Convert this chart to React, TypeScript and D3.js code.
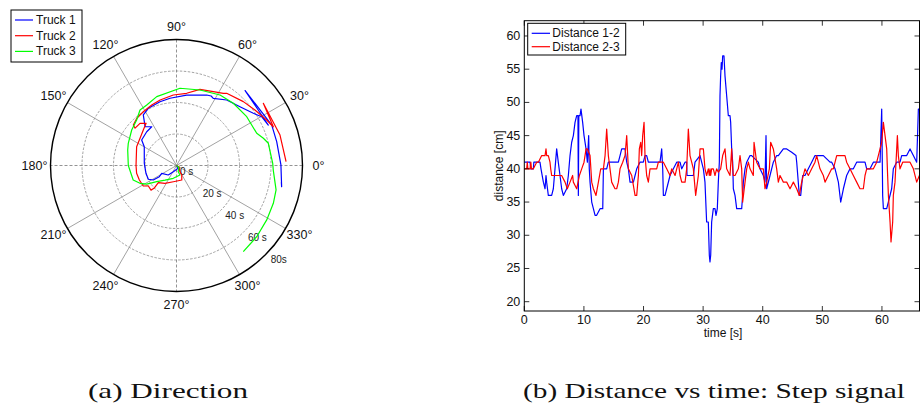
import React from 'react';
import * as d3 from 'd3';

// ---------- Polar chart data (time [s] as radius, heading [deg] as angle) ----------
const truckNames = ['Truck 1', 'Truck 2', 'Truck 3'];
const truckColors = ['#0000ff', '#ff0000', '#00ff00'];

const truck1Time = [0, 2, 4.4, 8, 10.6, 13, 17.4, 19.9, 20, 20.5, 23.7, 27.4, 28.6, 29.2, 31.7, 38.4, 40.5, 41.8, 42.9, 45.2, 48.7, 49.3, 48.6, 52.4, 54.9, 59, 62.3, 63.7, 64.5, 65.7, 65.4, 66.3, 68.1, 67.4];
const truck1Angle = [0, -60, -117, -131, -152, -147, -148, -154, -165.7, 176, 149.7, 143.8, 131.4, 122.6, 129, 123.3, 116.2, 104.5, 95.5, 81.8, 66.8, 63.5, 61.3, 52.5, 42.8, 34.2, 29.8, 23.8, 47.5, 23, 13.4, 0.3, -11.4, -9];

const truck2Time = [0, 2, 4.5, 6.9, 9.8, 10.5, 13.5, 15.9, 20.3, 22.5, 22.1, 24.8, 25.3, 25.8, 25.7, 28, 28.6, 30.9, 33, 35.4, 35.4, 37.6, 39.2, 40.1, 41.5, 42.9, 44.8, 46.3, 50.6, 52.4, 54.6, 55.8, 58.7, 61, 64.1, 66.2, 67.8, 68.5, 69.1, 69.6];
const truck2Angle = [0, -30, -60.5, -61, -70, -101, -123, -136.6, -134.6, -136, -144, -148.3, -158.7, -169, 180, 154.7, 145.6, 133, 125.8, 130.9, 138, 136.8, 130, 121.7, 112.3, 104, 92.6, 82, 72.9, 63.5, 57, 55.2, 43.7, 35.3, 26.8, 21.8, 35.6, 16.4, 4.6, 2];

const truck3Time = [0, 2, 4, 6.4, 8.4, 11.8, 16.2, 22.3, 25.8, 29, 30.6, 32.5, 33.7, 36.3, 38.4, 42.2, 42.8, 45.5, 49.1, 50.2, 52.6, 53.5, 54.3, 54.9, 57.8, 60, 61.1, 61.5, 65.1, 66, 66.9, 68.1, 69.2];
const truck3Angle = [0, -40, -75, -70, -104, -128, -141, -148, -154, -161.5, 180, 162.4, 155.3, 141.6, 131.2, 123.3, 116.2, 106, 87.4, 72.7, 58.3, 47.6, 34.8, 21.9, 17.4, 13.6, 1.3, -2.7, -13.8, -21.3, -31.1, -41.6, -52.2];

const polarAngleTicks = [0, 30, 60, 90, 120, 150, 180, 210, 240, 270, 300, 330];
const polarRingTicks = [20, 40, 60];
const polarRadiusLabels = [0, 20, 40, 60, 80];
const polarRadiusLabelText = ['0 s', '20 s', '40 s', '60 s', '80s'];

// ---------- Distance chart data ----------
const seriesNames = ['Distance 1-2', 'Distance 2-3'];
const seriesColors = ['#0000ff', '#ff0000'];

const dist12Time = [0, 0.96, 1.1, 1.52, 1.6, 2.63, 2.8, 3.2, 3.48, 3.64, 3.75, 4.03, 4.59, 4.87, 5.15, 5.43, 5.7, 5.99, 6.27, 6.55, 7.11, 7.39, 7.67, 7.95, 8.23, 8.51, 8.79, 9.0, 9.07, 9.15, 9.35, 9.51, 9.79, 10.02, 10.36, 10.58, 10.8, 10.9, 11.03, 11.31, 11.59, 11.87, 12.14, 12.71, 13.16, 13.27, 13.82, 14.1, 15.22, 15.78, 16.06, 16.34, 16.9, 17.18, 17.46, 17.74, 18.3, 18.58, 18.86, 19.41, 19.97, 20.25, 20.53, 20.81, 22.77, 23.05, 23.22, 23.33, 23.61, 23.89, 24.45, 25.01, 25.57, 26.13, 26.41, 26.97, 27.24, 27.3, 28.36, 28.64, 29.48, 30.04, 30.31, 30.59, 30.87, 31.04, 31.15, 31.27, 31.43, 31.71, 31.99, 32.16, 32.38, 32.55, 32.72, 32.83, 32.94, 33.05, 33.17, 33.28, 33.5, 33.67, 33.95, 34.23, 34.51, 34.62, 34.79, 34.96, 35.07, 35.35, 35.63, 36.47, 36.63, 36.75, 37.03, 37.31, 37.87, 38.14, 38.7, 39.26, 39.54, 40.1, 40.38, 40.55, 40.66, 41.22, 41.78, 42.34, 42.62, 43.46, 44.02, 44.86, 45.58, 45.7, 46.14, 46.37, 46.7, 47.09, 47.65, 48.21, 48.77, 49.61, 50.17, 50.73, 51.29, 51.57, 52.13, 52.69, 53.08, 53.53, 54.08, 54.64, 55.2, 55.76, 57.16, 57.44, 58.0, 58.56, 59.68, 59.96, 60.12, 60.24, 60.8, 61.63, 61.91, 62.47, 63.03, 63.31, 64.15, 64.71, 65.27, 65.83, 66.11, 66.28];
const dist12Value = [41, 41, 40, 40, 41, 41, 40, 38, 37, 39, 38, 36, 36, 37, 40, 43, 41, 39, 37, 36, 37, 39, 42, 44, 45, 47, 48, 48, 36, 48, 48, 49, 47, 45, 43, 41, 45, 40, 38, 35, 34, 33, 33, 34, 34, 40, 40, 41, 41, 41, 42, 43, 43, 41, 40, 38, 38, 39, 40, 41, 41, 42, 42, 41, 41, 43, 40, 36, 36, 37, 39, 40, 41, 41, 40, 41, 41, 39, 39, 41, 42, 40, 38, 32, 32, 27, 26, 27, 32, 34, 34, 33, 34, 38, 41, 51, 54, 56, 55, 57, 57, 54, 51, 48, 48, 47, 43, 41, 37, 36, 34, 34, 36, 38, 40, 41, 42, 42, 41.5, 41, 40, 39, 38, 45, 37, 39, 41, 42, 42, 43, 43, 42.5, 42, 41, 36, 36, 39, 39, 40, 41, 42, 42, 42, 41.5, 41, 41, 40, 38, 35, 37, 39, 40, 40, 41, 41, 40, 40, 41, 41, 49, 36, 34, 34, 37, 40, 41, 41, 42, 42, 43, 42, 41, 49, 49];

const dist23Time = [0, 0.4, 0.5, 0.6, 0.96, 1.1, 1.2, 1.52, 2.08, 2.36, 2.92, 3.48, 3.64, 3.75, 4.03, 4.31, 4.43, 4.59, 5.99, 6.27, 6.83, 7.22, 7.67, 8.11, 8.23, 8.79, 9.24, 9.63, 10.02, 10.36, 10.58, 11.03, 11.31, 11.59, 12.03, 12.43, 12.82, 13.27, 13.55, 13.82, 14.1, 14.38, 14.66, 15.22, 15.5, 15.78, 16.06, 16.51, 16.9, 17.18, 17.46, 18.02, 18.58, 18.86, 19.14, 19.3, 19.53, 19.69, 19.86, 20.09, 20.25, 20.53, 20.81, 21.09, 22.21, 22.49, 23.33, 23.89, 24.45, 24.73, 25.29, 25.57, 25.85, 26.13, 26.41, 26.97, 27.24, 27.52, 27.8, 28.08, 28.36, 28.75, 29.2, 29.48, 30.04, 30.31, 30.59, 30.87, 31.04, 31.15, 31.27, 31.43, 31.71, 31.99, 32.27, 32.55, 32.94, 33.28, 33.67, 33.95, 34.51, 34.79, 34.96, 35.07, 35.35, 35.91, 36.19, 36.47, 36.63, 37.03, 37.31, 37.59, 37.87, 38.42, 38.54, 38.98, 39.54, 40.1, 40.38, 40.66, 41.11, 41.33, 41.78, 42.34, 42.62, 42.9, 43.46, 44.02, 44.58, 45.14, 45.7, 46.14, 46.53, 47.09, 47.65, 48.21, 48.77, 49.05, 49.33, 49.61, 50.17, 50.45, 51.01, 51.57, 51.85, 52.13, 52.41, 53.8, 54.08, 54.64, 55.2, 55.76, 56.32, 56.88, 57.16, 57.44, 58.56, 59.12, 59.68, 59.96, 60.24, 60.52, 60.8, 60.91, 61.08, 61.36, 61.52, 61.8, 61.91, 62.19, 62.59, 62.75, 63.03, 63.48, 64.71, 65.27, 65.83, 66.28];
const dist23Value = [40, 40, 41, 40, 40, 41, 40, 40, 41, 41, 42, 42, 43, 42, 42, 41, 40, 39, 39, 39, 38, 37, 38, 39, 38, 37, 39, 40, 41, 43, 43, 42, 38, 37, 36, 38, 40, 40, 42, 46, 42, 40, 38, 37, 37, 38, 40, 41, 42, 45, 40, 39, 36, 36, 39, 43, 44, 42, 45, 47, 42, 39, 38, 40, 40, 41, 41, 40, 39, 40, 39, 40, 41, 39, 38, 38, 40, 46, 42, 41, 40, 36, 39, 43, 43, 40, 39, 40, 39, 40, 39, 40, 40, 39, 40, 39.5, 40, 42, 43, 40, 39, 43, 40, 39, 39, 40, 42, 40, 35, 38, 40, 41, 40, 39, 44, 41, 40, 40, 37, 38, 40, 44, 43, 40, 38, 39, 38, 38, 37, 38, 37, 36, 38, 40, 39, 40, 41, 42, 41, 40, 39, 38, 39, 40, 40, 41, 42, 42, 41, 40, 39, 38, 37, 37, 39, 40, 40, 41, 43, 44, 47, 45, 43, 40, 36, 32, 29, 32, 36, 38, 45, 42, 40, 41, 41, 40, 38, 39];

const xTicks = [0, 10, 20, 30, 40, 50, 60];
const yTicks = [20, 25, 30, 35, 40, 45, 50, 55, 60];

const captionA = '(a)  Direction';
const captionB = '(b)  Distance vs time: Step signal';

const SANS = '"Liberation Sans", Arial, Helvetica, sans-serif';

export default function App() {
  // ---------------- polar ----------------
  const cx = 176.5, cy = 165.5, R = 126;
  const rScale = d3.scaleLinear().domain([0, 80]).range([0, R]);
  const rad = (a: number) => (a * Math.PI) / 180;
  const px = (t: number, a: number) => cx + rScale(t) * Math.cos(rad(a));
  const py = (t: number, a: number) => cy - rScale(t) * Math.sin(rad(a));
  const polarLine = d3
    .line<[number, number]>()
    .x((d) => px(d[0], d[1]))
    .y((d) => py(d[0], d[1]));
  const trucks: [number, number][][] = [
    truck1Time.map((t, i) => [t, truck1Angle[i]]),
    truck2Time.map((t, i) => [t, truck2Angle[i]]),
    truck3Time.map((t, i) => [t, truck3Angle[i]]),
  ];

  // ---------------- distance chart ----------------
  const left = 524.3, right = 919.5, top = 20.7, bottom = 311;
  const x = d3.scaleLinear().domain([0, 66.3]).range([left, right]);
  const y = d3.scaleLinear().domain([18.6, 62.3]).range([bottom, top]);
  const line = d3
    .line<[number, number]>()
    .x((d) => x(d[0]))
    .y((d) => y(d[1]));
  const series: [number, number][][] = [
    dist12Time.map((t, i) => [t, dist12Value[i]]),
    dist23Time.map((t, i) => [t, dist23Value[i]]),
  ];
  const tickLen = 5;

  return (
    <svg
      width={923}
      height={411}
      style={{ position: 'absolute', left: 0, top: 0, background: '#fff' }}
      fontFamily={SANS}
    >
      <rect x={0} y={0} width={923} height={411} fill="#fff" />
      {/* ===== Polar grid ===== */}
      <g>
        {polarRingTicks.map((t) => (
          <circle key={t} cx={cx} cy={cy} r={rScale(t)} fill="none" stroke="#8a8a8a" strokeWidth={0.8} strokeDasharray="2.5,1.5" />
        ))}
        {polarAngleTicks.filter((a) => a < 180).map((a) => {
          const hv = a % 90 === 0;
          return (
            <line
              key={a}
              x1={px(80, a)}
              y1={py(80, a)}
              x2={px(80, a + 180)}
              y2={py(80, a + 180)}
              stroke={hv ? '#777' : '#8a8a8a'}
              strokeWidth={0.8}
              strokeDasharray={hv ? '3,2' : undefined}
            />
          );
        })}
        <circle cx={cx} cy={cy} r={rScale(80)} fill="none" stroke="#000" strokeWidth={1.4} />
        {polarAngleTicks.map((a) => (
          <text
            key={a}
            x={cx + 142 * Math.cos(rad(a))}
            y={cy - 139 * Math.sin(rad(a))}
            textAnchor="middle"
            dominantBaseline="central"
            fontSize={12.5}
            fill="#111"
          >
            {a}°
          </text>
        ))}
        {polarRadiusLabels.map((t, i) => (
          <text
            key={t}
            x={cx + 3.5 + rScale(t) * Math.cos(rad(44))}
            y={cy + 6 + rScale(t) * Math.sin(rad(44))}
            dominantBaseline="central"
            fontSize={10}
            fill="#222"
          >
            {polarRadiusLabelText[i]}
          </text>
        ))}
      </g>
      {/* ===== Truck paths ===== */}
      {trucks.map((d, i) => (
        <path key={i} d={polarLine(d) || ''} fill="none" stroke={truckColors[i]} strokeWidth={1.2} strokeLinejoin="round" />
      ))}
      {/* ===== Polar legend ===== */}
      <g>
        <rect x={11} y={10} width={71} height={52} fill="#fff" stroke="#000" strokeWidth={1} />
        {truckNames.map((n, i) => {
          const ly = 20 + i * 15.7;
          return (
            <g key={n}>
              <line x1={15} x2={33} y1={ly} y2={ly} stroke={truckColors[i]} strokeWidth={1.2} />
              <text x={36} y={ly} dominantBaseline="central" fontSize={12} fill="#111">
                {n}
              </text>
            </g>
          );
        })}
      </g>

      {/* ===== Distance chart ===== */}
      <defs>
        <clipPath id="plotClip">
          <rect x={left} y={top} width={right - left} height={bottom - top} />
        </clipPath>
      </defs>
      <g clipPath="url(#plotClip)">
        {series.map((d, i) => (
          <path key={i} d={line(d) || ''} fill="none" stroke={seriesColors[i]} strokeWidth={1.2} strokeLinejoin="round" />
        ))}
      </g>
      <rect x={left} y={top} width={right - left} height={bottom - top} fill="none" stroke="#000" strokeWidth={1} />
      {xTicks.map((t) => (
        <g key={t}>
          <line x1={x(t)} x2={x(t)} y1={bottom} y2={bottom - tickLen} stroke="#000" strokeWidth={0.8} />
          <line x1={x(t)} x2={x(t)} y1={top} y2={top + tickLen} stroke="#000" strokeWidth={0.8} />
          <text x={x(t)} y={bottom + 9} textAnchor="middle" dominantBaseline="central" fontSize={12.5} fill="#111">
            {t}
          </text>
        </g>
      ))}
      {yTicks.map((v) => (
        <g key={v}>
          <line x1={left} x2={left + tickLen} y1={y(v)} y2={y(v)} stroke="#000" strokeWidth={0.8} />
          <line x1={right} x2={right - tickLen} y1={y(v)} y2={y(v)} stroke="#000" strokeWidth={0.8} />
          <text x={left - 4} y={y(v)} textAnchor="end" dominantBaseline="central" fontSize={12.5} fill="#111">
            {v}
          </text>
        </g>
      ))}
      <text x={723} y={333} textAnchor="middle" dominantBaseline="central" fontSize={12} fill="#111">
        time [s]
      </text>
      <text
        transform={`translate(499,${(top + bottom) / 2}) rotate(-90)`}
        textAnchor="middle"
        dominantBaseline="central"
        fontSize={12}
        fill="#111"
      >
        distance [cm]
      </text>
      {/* legend */}
      <g>
        <rect x={527.7} y={23.3} width={98} height={31.7} fill="#fff" stroke="#000" strokeWidth={1} />
        {seriesNames.map((n, i) => {
          const ly = 33.3 + i * 13.4;
          return (
            <g key={n}>
              <line x1={531.7} x2={550} y1={ly} y2={ly} stroke={seriesColors[i]} strokeWidth={1.2} />
              <text x={552.3} y={ly} dominantBaseline="central" fontSize={12} fill="#111">
                {n}
              </text>
            </g>
          );
        })}
      </g>

      {/* ===== Captions ===== */}
      <text x={88} y={398} fontFamily='"Liberation Serif", "DejaVu Serif", serif' fontSize={22} textLength={160} lengthAdjust="spacingAndGlyphs" fill="#111">
        {captionA}
      </text>
      <text x={523} y={398} fontFamily='"Liberation Serif", "DejaVu Serif", serif' fontSize={22} textLength={382} lengthAdjust="spacingAndGlyphs" fill="#111">
        {captionB}
      </text>
    </svg>
  );
}
